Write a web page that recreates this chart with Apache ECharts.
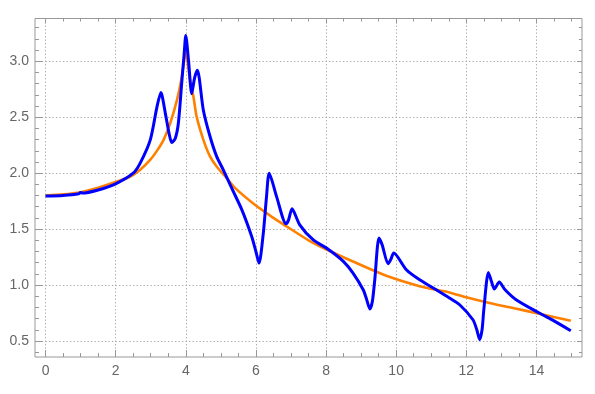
<!DOCTYPE html>
<html>
<head>
<meta charset="utf-8">
<script src="https://cdn.jsdelivr.net/npm/echarts@6/dist/echarts.min.js"></script>
<style>html,body{margin:0;padding:0;background:#fff;}#c{width:595px;height:394px;}</style>
</head>
<body>
<div id="c"></div>
<script>
// ---- data ----
const blueX = [0, 0.5, 0.95, 1.0, 1.05, 1.5, 2.0, 2.5, 2.7, 2.99, 3.18, 3.29, 3.42, 3.52, 3.60, 3.70, 3.79, 3.89, 3.95, 4.0, 4.08, 4.17, 4.25, 4.33, 4.5, 4.69, 4.88, 5.07, 5.31, 5.60, 5.88, 6.0, 6.09, 6.21, 6.30, 6.38, 6.59, 6.86, 6.93, 7.03, 7.25, 7.63, 8.06, 8.5, 8.77, 9.06, 9.15, 9.25, 9.32, 9.39, 9.51, 9.6, 9.77, 9.85, 9.93, 10.29, 10.67, 11.14, 11.52, 11.81, 12.19, 12.3, 12.38, 12.45, 12.5, 12.63, 12.72, 12.8, 12.94, 13.1, 13.42, 14.08, 14.5, 14.98];
const blueY = [1.795, 1.80, 1.815, 1.828, 1.822, 1.85, 1.905, 2.0, 2.09, 2.30, 2.595, 2.72, 2.53, 2.36, 2.273, 2.31, 2.45, 2.83, 3.05, 3.23, 3.0, 2.71, 2.85, 2.92, 2.565, 2.33, 2.15, 2.03, 1.866, 1.672, 1.434, 1.30, 1.196, 1.46, 1.78, 2.0, 1.79, 1.547, 1.58, 1.681, 1.538, 1.405, 1.32, 1.21, 1.107, 0.958, 0.88, 0.786, 0.85, 1.047, 1.42, 1.36, 1.19, 1.23, 1.286, 1.137, 1.047, 0.958, 0.884, 0.824, 0.69, 0.6, 0.512, 0.6, 0.78, 1.113, 1.03, 0.964, 1.027, 0.96, 0.869, 0.75, 0.68, 0.592];
const orangeX = [0, 0.5, 1, 1.5, 2, 2.42, 2.7, 2.99, 3.2, 3.37, 3.56, 3.75, 3.87, 3.95, 4.0, 4.05, 4.12, 4.22, 4.31, 4.5, 4.69, 4.88, 5.17, 5.41, 6.0, 6.5, 6.88, 7.5, 8.0, 8.77, 9.72, 10.67, 11.24, 11.52, 12.0, 12.66, 13.4, 14.08, 14.98];
const orangeY = [1.80, 1.81, 1.83, 1.87, 1.92, 1.97, 2.03, 2.12, 2.21, 2.30, 2.45, 2.655, 2.83, 3.0, 3.11, 3.0, 2.83, 2.68, 2.505, 2.30, 2.15, 2.06, 1.955, 1.866, 1.71, 1.60, 1.523, 1.40, 1.32, 1.21, 1.083, 0.99, 0.952, 0.934, 0.89, 0.839, 0.79, 0.744, 0.681];
const xMajorTicks = [0, 2, 4, 6, 8, 10, 12, 14];
const xMinorTicks = [0.5, 1, 1.5, 2.5, 3, 3.5, 4.5, 5, 5.5, 6.5, 7, 7.5, 8.5, 9, 9.5, 10.5, 11, 11.5, 12.5, 13, 13.5, 14.5, 15];
const yMajorTicks = [0.5, 1.0, 1.5, 2.0, 2.5, 3.0];
const yMinorTicks = [0.4, 0.6, 0.7, 0.8, 0.9, 1.1, 1.2, 1.3, 1.4, 1.6, 1.7, 1.8, 1.9, 2.1, 2.2, 2.3, 2.4, 2.6, 2.7, 2.8, 2.9, 3.1, 3.2, 3.3];
const xRange = [-0.3, 15.3];
const yRange = [0.357, 3.382];

const frameColor = '#999';
const labelColor = '#666';
const gridColor = '#aaa';
const font = 'Liberation Sans, Arial, sans-serif';

function mkAxis(dim, pos, ticks, len, opts) {
  const base = {
    type: 'value',
    position: pos,
    min: dim === 'x' ? xRange[0] : yRange[0],
    max: dim === 'x' ? xRange[1] : yRange[1],
    axisLine: { show: false, onZero: false },
    axisTick: { show: true, inside: true, length: len, customValues: ticks, lineStyle: { color: frameColor, width: 1 } },
    axisLabel: { show: false },
    splitLine: { show: false },
    minorTick: { show: false },
    minorSplitLine: { show: false }
  };
  return Object.assign(base, opts || {});
}

const chart = echarts.init(document.getElementById('c'), null, { renderer: 'canvas' });
chart.setOption({
  animation: false,
  backgroundColor: '#fff',
  grid: { left: 35, right: 13, top: 18.5, bottom: 37, show: true, borderColor: frameColor, borderWidth: 1, backgroundColor: 'transparent' },
  xAxis: [
    mkAxis('x', 'bottom', xMajorTicks, 7, {
      axisLabel: { show: true, customValues: xMajorTicks, color: labelColor, fontSize: 14, fontFamily: font, margin: 7, formatter: v => String(v) },
      splitLine: { show: true, lineStyle: { color: gridColor, width: 1, type: [1.3, 2.2] } }
    }),
    mkAxis('x', 'bottom', xMinorTicks, 4),
    mkAxis('x', 'top', xMajorTicks, 5),
    mkAxis('x', 'top', xMinorTicks, 3)
  ],
  yAxis: [
    mkAxis('y', 'left', yMajorTicks, 7, {
      axisLabel: { show: true, customValues: yMajorTicks, color: labelColor, fontSize: 14, fontFamily: font, margin: 6, formatter: v => v.toFixed(1) },
      splitLine: { show: true, lineStyle: { color: gridColor, width: 1, type: [1.3, 2.2] } }
    }),
    mkAxis('y', 'left', yMinorTicks, 4),
    mkAxis('y', 'right', yMajorTicks, 5),
    mkAxis('y', 'right', yMinorTicks, 3)
  ],
  series: [
    {
      type: 'line', xAxisIndex: 0, yAxisIndex: 0,
      data: orangeX.map((x, i) => [x, orangeY[i]]),
      showSymbol: false, smooth: 0.25,
      lineStyle: { color: '#ff8000', width: 2.6 }, z: 3
    },
    {
      type: 'line', xAxisIndex: 0, yAxisIndex: 0,
      data: blueX.map((x, i) => [x, blueY[i]]),
      showSymbol: false, smooth: 0.25,
      lineStyle: { color: '#0000ff', width: 3 }, z: 4
    }
  ]
});
</script>
</body>
</html>
